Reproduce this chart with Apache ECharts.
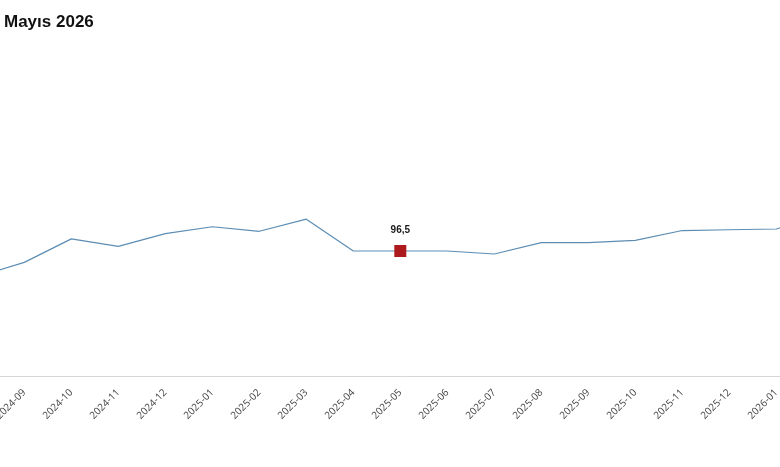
<!DOCTYPE html>
<html>
<head>
<meta charset="utf-8">
<style>
  html, body { margin: 0; padding: 0; width: 780px; height: 467px; overflow: hidden; background: #fff; position: relative; }
  #chart { position: absolute; left: -100px; top: 0; width: 1000px; height: 467px; }
</style>
<script src="https://cdn.jsdelivr.net/npm/echarts@6/dist/echarts.min.js"></script>
</head>
<body>
<div id="chart"></div>
<script>
const titleText = 'Mayıs 2026';
const months = ['2024-08','2024-09','2024-10','2024-11','2024-12','2025-01','2025-02','2025-03','2025-04','2025-05','2025-06','2025-07','2025-08','2025-09','2025-10','2025-11','2025-12','2026-01','2026-02'];
const indexValues = [93.1, 95.0, 98.1, 97.1, 98.8, 99.7, 99.1, 100.7, 96.5, 96.5, 96.5, 96.1, 97.6, 97.6, 97.9, 99.2, 99.3, 99.4, 101.3];
const highlightMonth = '2025-05';

const chart = echarts.init(document.getElementById('chart'), null, { renderer: 'canvas' });

const seriesData = indexValues.map((v, i) => {
  if (months[i] === highlightMonth) {
    return {
      value: v,
      symbol: 'rect',
      symbolSize: 12,
      itemStyle: { color: '#ad1a1e' },
      label: {
        show: true,
        position: 'top',
        distance: 10,
        formatter: (p) => String(p.value).replace('.', ','),
        fontFamily: 'Liberation Sans, Arial, sans-serif',
        fontWeight: 'bold',
        fontSize: 10,
        color: '#1a1a1a'
      }
    };
  }
  return { value: v, symbol: 'none' };
});

chart.setOption({
  animation: false,
  backgroundColor: '#ffffff',
  title: {
    text: titleText,
    left: 99,
    top: 9,
    textStyle: {
      fontFamily: 'Liberation Sans, Arial, sans-serif',
      fontWeight: 'bold',
      fontSize: 17,
      color: '#111111'
    }
  },
  grid: { left: 77.3, right: 76.7, top: 148.7, bottom: 91, containLabel: false },
  xAxis: {
    type: 'category',
    data: months,
    boundaryGap: false,
    axisLine: { show: true, lineStyle: { color: '#d6d6d6', width: 1 } },
    axisTick: { show: false },
    axisLabel: {
      rotate: 45,
      margin: 15,
      interval: 0,
      fontFamily: 'Open Sans, Noto Sans, sans-serif',
      fontSize: 10,
      color: '#444444'
    },
    splitLine: { show: false }
  },
  yAxis: {
    type: 'value',
    min: 80,
    max: 110,
    show: false,
    splitLine: { show: false }
  },
  series: [{
    type: 'line',
    data: seriesData,
    showSymbol: true,
    showAllSymbol: true,
    lineStyle: { color: '#5d8db3', width: 1.2 },
    itemStyle: { color: '#5d8db3' },
    emphasis: { disabled: true }
  }]
});
</script>
</body>
</html>
